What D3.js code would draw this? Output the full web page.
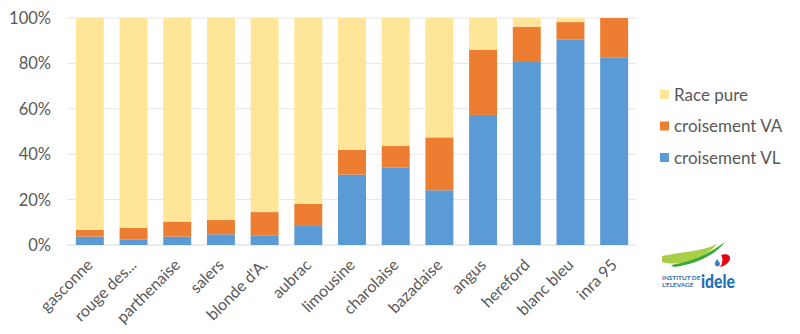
<!DOCTYPE html>
<html><head><meta charset="utf-8">
<script src="https://cdn.jsdelivr.net/npm/d3@7"></script>
<style>
html,body{margin:0;padding:0;background:#fff;}
svg{display:block;font-family:Lato,"Open Sans",sans-serif;}
</style></head>
<body>
<svg id="chart" width="800" height="334"></svg>
<script>
const categories = ["gasconne","rouge des...","parthenaise","salers","blonde d'A.","aubrac","limousine","charolaise","bazadaise","angus","hereford","blanc bleu","inra 95"];
const croisementVL = [3.7, 2.5, 3.7, 4.7, 4.3, 8.4, 31.0, 34.2, 24.1, 57.3, 80.6, 90.6, 82.7];
const croisementVA = [2.9, 5.1, 6.6, 6.3, 10.2, 9.7, 10.9, 9.4, 23.3, 28.6, 15.6, 7.6, 17.3];
const racePure    = [93.4, 92.4, 89.7, 89.0, 85.5, 81.9, 58.1, 56.4, 52.6, 14.1, 3.8, 1.8, 0.0];
const seriesNames = ["croisement VL","croisement VA","Race pure"];
const yTicks = [0, 0.2, 0.4, 0.6, 0.8, 1.0];
const colors = {"croisement VL":"#5B9BD5","croisement VA":"#ED7D31","Race pure":"#FFE597"};

const rows = categories.map((c,i)=>({cat:c,"croisement VL":croisementVL[i],"croisement VA":croisementVA[i],"Race pure":racePure[i]}));
const stacked = d3.stack().keys(seriesNames).offset(d3.stackOffsetExpand)(rows);

const svg = d3.select("#chart");
const x = d3.scaleBand().domain(categories).range([68,636]).paddingInner(0.36).paddingOuter(0.18);
const y = d3.scaleLinear().domain([0,1]).range([245,18]);

// gridlines
svg.append("g").selectAll("line").data(yTicks).join("line")
  .attr("x1",67).attr("x2",636)
  .attr("y1",d=>y(d)).attr("y2",d=>y(d))
  .attr("stroke",d=>d===0?"#D9D9D9":"#E6E6E6").attr("stroke-width",1);

// y tick labels
svg.append("g").selectAll("text").data(yTicks).join("text")
  .attr("x",51).attr("y",d=>y(d)).attr("dy","0.36em")
  .attr("text-anchor","end").attr("fill","#595959").attr("font-size",16.5)
  .text(d=>d3.format(".0%")(d));

// bars
svg.append("g").selectAll("g").data(stacked).join("g")
  .attr("fill",d=>colors[d.key])
  .selectAll("rect").data(d=>d).join("rect")
  .attr("x",d=>x(d.data.cat)).attr("width",x.bandwidth())
  .attr("y",d=>y(d[1])).attr("height",d=>Math.max(0,y(d[0])-y(d[1])));

// x labels
svg.append("g").selectAll("text").data(categories).join("text")
  .attr("transform",d=>`translate(${x(d)+x.bandwidth()/2+4},266) rotate(-45)`)
  .attr("text-anchor","end").attr("fill","#595959").attr("font-size",16)
  .text(d=>d);

// legend
const legendOrder = ["Race pure","croisement VA","croisement VL"];
const lg = svg.append("g").selectAll("g").data(legendOrder).join("g")
  .attr("transform",(d,i)=>`translate(660,${94.5+i*31.5})`);
lg.append("rect").attr("x",0).attr("y",-4.5).attr("width",9).attr("height",9).attr("fill",d=>colors[d]);
lg.append("text").attr("x",14).attr("dy","0.36em").attr("fill","#595959").attr("font-size",17).text(d=>d);

// logo
const logo = svg.append("g");
logo.append("path").attr("d","M662,256 C680,252 700,252 717,244 C712,251 700,258 686,262 C677,264 668,264 662,262 Z").attr("fill","#A8CF45");
logo.append("path").attr("d","M671,265 C692,262 710,253 725,242 C715,255 697,264 674,267 Z").attr("fill","#3AA935");
logo.append("path").attr("d","M721,255 C726,253 731,255 730,259 C729,263 725,266 720,267 C723,263 723,258 721,255 Z").attr("fill","#E30613");
logo.append("path").attr("d","M717,259 C715,262 714,265 716,266 C718,267 720,266 720,264 C720,262 718,261 717,259 Z").attr("fill","#3C86C8");
logo.append("text").attr("x",662).attr("y",280).attr("font-size",6.4).attr("font-weight","bold").attr("fill","#1F6FB5").text("INSTITUT DE");
logo.append("text").attr("x",662).attr("y",287).attr("font-size",6.4).attr("font-weight","bold").attr("fill","#1F6FB5").text("L'ELEVAGE");
logo.append("text").attr("x",701).attr("y",288).attr("font-size",19).attr("font-weight","900").attr("fill","#1F6FB5")
  .attr("textLength",34).attr("lengthAdjust","spacingAndGlyphs").text("idele");
</script>
</body></html>
